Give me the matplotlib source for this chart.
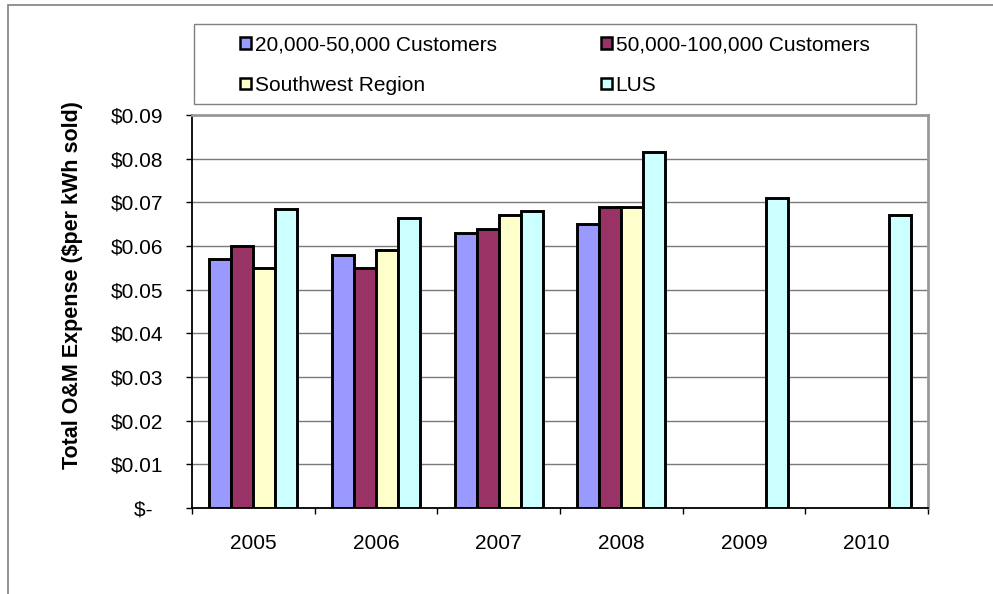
import numpy as np
import matplotlib.pyplot as plt
from matplotlib.patches import Rectangle

plt.rcParams['font.family'] = ['Liberation Sans', 'DejaVu Sans']

years = ['2005', '2006', '2007', '2008', '2009', '2010']
series_names = ['20,000-50,000 Customers', '50,000-100,000 Customers',
                'Southwest Region', 'LUS']
small_utils = [0.057, 0.058, 0.063, 0.065, np.nan, np.nan]
mid_utils = [0.060, 0.055, 0.064, 0.069, np.nan, np.nan]
southwest = [0.055, 0.059, 0.067, 0.069, np.nan, np.nan]
lus = [0.0685, 0.0665, 0.068, 0.0815, 0.071, 0.067]
colors = ['#9999FF', '#993366', '#FFFFCC', '#CCFFFF']
y_ticks = [0.0, 0.01, 0.02, 0.03, 0.04, 0.05, 0.06, 0.07, 0.08, 0.09]

W, H = 993, 594
fig = plt.figure(figsize=(W / 100, H / 100), dpi=100)
ax = fig.add_axes([192 / W, 1 - 508 / H, (928 - 192) / W, (508 - 115) / H])

x = np.arange(len(years))
bw = 0.18
handles = []
for i, (vals, c) in enumerate(zip([small_utils, mid_utils, southwest, lus], colors)):
    b = ax.bar(x + (i - 1.5) * bw, vals, bw, color=c, edgecolor='black',
               linewidth=2.1, zorder=3)
    handles.append(b)

ax.set_xlim(-0.5, len(years) - 0.5)
ax.set_ylim(0, 0.09)

# y axis: accounting-style dollar labels
ax.set_yticks(y_ticks)
ax.set_yticklabels(['$-  '] + ['$%.2f' % v for v in y_ticks[1:]])
ax.tick_params(axis='y', direction='out', length=4.5, width=1, pad=16,
               labelsize=15, colors='black')
ax.yaxis.grid(True, color='#7a7a7a', linewidth=1)
ax.set_axisbelow(True)

# x axis: tick marks between categories, labels at centres
ax.set_xticks(np.arange(-0.5, len(years), 1.0))
ax.set_xticklabels([])
ax.set_xticks(x, minor=True)
ax.set_xticklabels(years, minor=True)
ax.tick_params(axis='x', which='major', direction='out', length=4.5, width=1)
ax.tick_params(axis='x', which='minor', length=0, pad=19, labelsize=15)

for side in ['left', 'bottom']:
    ax.spines[side].set_color('black')
    ax.spines[side].set_linewidth(1.3)
for side in ['top', 'right']:
    ax.spines[side].set_color('#999999')
    ax.spines[side].set_linewidth(2)

fig.text(73 / W, 1 - 285 / H, 'Total O&M Expense ($per kWh sold)',
         rotation=90, ha='center', va='center', fontsize=15.5, fontweight='bold')

# legend: order so rows read left to right
order = [0, 2, 1, 3]
leg = fig.legend([handles[i] for i in order], [series_names[i] for i in order],
                 ncol=2, loc='center', bbox_to_anchor=(555 / W, 1 - 65 / H),
                 frameon=False, fontsize=15, handlelength=0.5,
                 handleheight=0.5, handletextpad=0.2, columnspacing=5.0,
                 labelspacing=1.05)
for p in leg.get_patches():
    p.set_linewidth(1.8)

fig.add_artist(Rectangle((194 / W, 1 - 104 / H), (916 - 194) / W, 80 / H,
                         transform=fig.transFigure, fill=False,
                         edgecolor='#808080', linewidth=1))
# outer chart border
fig.add_artist(Rectangle((8 / W, -0.1), 1.2, 1.1 - 5 / H,
                         transform=fig.transFigure, fill=False,
                         edgecolor='#808080', linewidth=1.2))

fig.savefig('out.png', dpi=100)
